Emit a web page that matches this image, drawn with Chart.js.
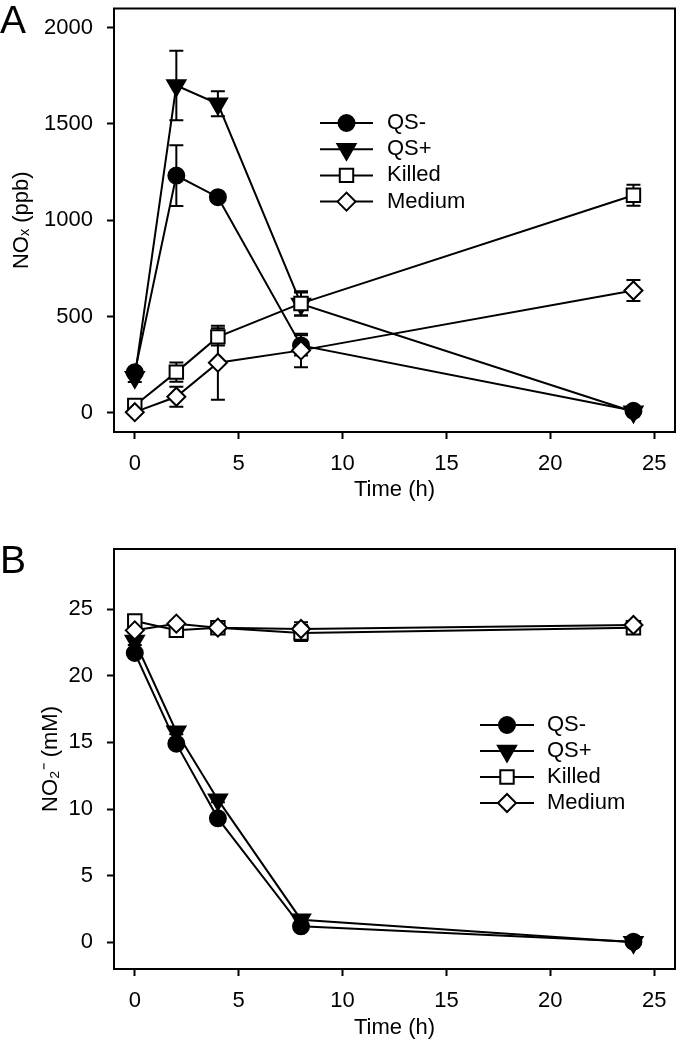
<!DOCTYPE html>
<html>
<head>
<meta charset="utf-8">
<script src="https://cdn.jsdelivr.net/npm/chart.js@4.4.1/dist/chart.umd.min.js"></script>
<style>
  html, body { margin: 0; padding: 0; background: #fff; }
  body { width: 680px; height: 1042px; position: relative; overflow: hidden; font-family: 'Liberation Sans', Arial, sans-serif; }
  .panel { position: absolute; left: 0; width: 680px; }
  .panel canvas { display: block; }
  .panel-label { position: absolute; left: 0; font-size: 39px; line-height: 1; color: #000; }
</style>
</head>
<body>
<div class="panel" style="top:0;height:505px"><canvas id="chartA" width="680" height="505"></canvas></div>
<div class="panel-label" style="top:0">A</div>
<div class="panel" style="top:520px;height:522px"><canvas id="chartB" width="680" height="522"></canvas></div>
<div class="panel-label" style="top:540px">B</div>
<script>
// sampling times (h)
const times = [0, 2, 4, 8, 24];
const seriesLabels = ['QS-', 'QS+', 'Killed', 'Medium'];
const timeTicks = [0, 5, 10, 15, 20, 25];

// panel A: NOx (ppb)
const noxTicks = [0, 500, 1000, 1500, 2000];
const noxQSminus = [210, 1232, 1120, 350, 10];
const noxQSplus = [185, 1700, 1605, 565, 5];
const noxKilled = [38, 211, 394, 568, 1130];
const noxMedium = [3, 83, 260, 324, 635];
const noxQSminusErr = [20, 158, 20, 52, 15];
const noxQSplusErr = [25, 180, 65, 60, 10];
const noxKilledErr = [20, 50, 45, 63, 55];
const noxMediumErr = [10, 52, 192, 87, 55];

// panel B: NO2- (mM)
const no2Ticks = [0, 5, 10, 15, 20, 25];
const no2QSminus = [21.7, 14.9, 9.3, 1.2, 0.05];
const no2QSplus = [22.6, 15.8, 10.7, 1.7, 0];
const no2Killed = [24.1, 23.4, 23.6, 23.2, 23.6];
const no2Medium = [23.4, 23.9, 23.6, 23.5, 23.8];
const no2QSminusErr = [0.3, 0.2, 0.2, 0.2, 0.1];
const no2QSplusErr = [0.3, 0.2, 0.2, 0.2, 0.1];
const no2KilledErr = [0.2, 0.2, 0.2, 0.6, 0.3];
const no2MediumErr = [0.2, 0.2, 0.2, 0.5, 0.2];

const FONT = "'Liberation Sans', Arial, sans-serif";
Chart.defaults.font.family = FONT;
Chart.defaults.color = '#000';

const markers = [
  { pointStyle: 'circle', radius: 8, rotation: 0, fill: '#000' },
  { pointStyle: 'triangle', radius: 10.5, rotation: 180, fill: '#000' },
  { pointStyle: 'rect', radius: 9.5, rotation: 0, fill: '#fff' },
  { pointStyle: 'rectRot', radius: 9, rotation: 0, fill: '#fff' }
];
// medium on top, then killed, QS-, QS+
const drawOrder = [2, 3, 1, 0];

const frame = {
  id: 'frame',
  afterDatasetsDraw(chart) {
    const { ctx, chartArea: a } = chart;
    ctx.save();
    ctx.strokeStyle = '#000';
    ctx.lineWidth = 2;
    ctx.strokeRect(a.left, a.top, a.right - a.left, a.bottom - a.top);
    ctx.restore();
  }
};

const errorBars = {
  id: 'errorBars',
  beforeDatasetsDraw(chart) {
    const { ctx, scales: { x, y } } = chart;
    ctx.save();
    ctx.strokeStyle = '#000';
    ctx.lineWidth = 2;
    chart.data.datasets.forEach(ds => {
      (ds.errors || []).forEach((e, i) => {
        if (!e) return;
        const pt = ds.data[i];
        const px = x.getPixelForValue(pt.x);
        const top = y.getPixelForValue(pt.y + e);
        const bot = y.getPixelForValue(pt.y - e);
        ctx.beginPath();
        ctx.moveTo(px, top); ctx.lineTo(px, bot);
        ctx.moveTo(px - 7, top); ctx.lineTo(px + 7, top);
        ctx.moveTo(px - 7, bot); ctx.lineTo(px + 7, bot);
        ctx.stroke();
      });
    });
    ctx.restore();
  }
};

const lineLegend = {
  id: 'lineLegend',
  afterDraw(chart, args, opts) {
    const { ctx } = chart;
    ctx.save();
    ctx.font = '22px ' + FONT;
    ctx.textBaseline = 'middle';
    chart.data.datasets.forEach((ds, i) => {
      const y = opts.top + i * opts.rowHeight;
      ctx.strokeStyle = '#000';
      ctx.lineWidth = 2;
      ctx.beginPath();
      ctx.moveTo(opts.left, y);
      ctx.lineTo(opts.left + opts.lineLength, y);
      ctx.stroke();
      const m = markers[i];
      ctx.fillStyle = m.fill;
      Chart.helpers.drawPoint(ctx, { pointStyle: m.pointStyle, radius: m.radius, rotation: m.rotation, borderWidth: 2 },
        opts.left + opts.lineLength / 2, y);
      ctx.fillStyle = '#000';
      ctx.fillText(ds.label, opts.left + opts.lineLength + opts.gap, y);
    });
    ctx.restore();
  }
};

function makeDatasets(values, errors) {
  return values.map((vals, i) => ({
    label: seriesLabels[i],
    data: times.map((t, j) => ({ x: t, y: vals[j] })),
    errors: errors[i],
    order: drawOrder[i],
    borderColor: '#000',
    borderWidth: 2,
    tension: 0,
    pointStyle: markers[i].pointStyle,
    pointRadius: markers[i].radius,
    pointRotation: markers[i].rotation,
    pointBackgroundColor: markers[i].fill,
    pointBorderColor: '#000',
    pointBorderWidth: 2
  }));
}

const tickGrid = { drawOnChartArea: false, drawTicks: true, tickLength: 7, tickWidth: 2, tickColor: '#000' };

function makeChart(id, cfg) {
  return new Chart(document.getElementById(id), {
    type: 'line',
    data: { datasets: makeDatasets(cfg.values, cfg.errors) },
    options: {
      responsive: false,
      animation: false,
      events: [],
      layout: { autoPadding: false, padding: { top: cfg.padTop, right: 5, left: 0, bottom: 0 } },
      plugins: {
        legend: { display: false },
        tooltip: { enabled: false },
        lineLegend: cfg.legend
      },
      scales: {
        x: {
          type: 'linear', min: -1, max: 26,
          afterBuildTicks(s) { s.ticks = timeTicks.map(v => ({ value: v })); },
          ticks: { padding: 12, font: { size: 22 }, color: '#000', maxRotation: 0, autoSkip: false, callback: v => String(v) },
          grid: tickGrid,
          border: { display: false },
          title: { display: true, text: 'Time (h)', font: { size: 22 }, color: '#000', padding: { top: 0, bottom: cfg.xTitlePad } },
          afterFit(s) { s.height = cfg.xHeight; s.paddingLeft = 0; s.paddingRight = 0; }
        },
        y: {
          type: 'linear', min: cfg.yMin, max: cfg.yMax,
          afterBuildTicks(s) { s.ticks = cfg.yTicks.map(v => ({ value: v })); },
          ticks: { padding: 14, font: { size: 22 }, color: '#000', autoSkip: false, callback: v => String(v) },
          grid: tickGrid,
          border: { display: false },
          title: { display: true, text: cfg.yTitle, font: { size: 22 }, color: '#000', padding: { top: cfg.yTitlePad, bottom: 0 } },
          afterFit(s) { s.width = 114; s.paddingTop = 0; s.paddingBottom = 0; }
        }
      }
    },
    plugins: [errorBars, frame, lineLegend]
  });
}

makeChart('chartA', {
  values: [noxQSminus, noxQSplus, noxKilled, noxMedium],
  errors: [noxQSminusErr, noxQSplusErr, noxKilledErr, noxMediumErr],
  yMin: -100, yMax: 2100, yTicks: noxTicks,
  yTitle: 'NOₓ (ppb)', yTitlePad: 9,
  padTop: 8.5, xHeight: 73, xTitlePad: 2,
  legend: { left: 320, top: 123, rowHeight: 26.2, lineLength: 53, gap: 14 }
});

makeChart('chartB', {
  values: [no2QSminus, no2QSplus, no2Killed, no2Medium],
  errors: [no2QSminusErr, no2QSplusErr, no2KilledErr, no2MediumErr],
  yMin: -2, yMax: 29.5, yTicks: no2Ticks,
  yTitle: 'NO₂⁻ (mM)', yTitlePad: 38,
  padTop: 29, xHeight: 73, xTitlePad: 1,
  legend: { left: 480, top: 205, rowHeight: 26, lineLength: 54, gap: 13 }
});
</script>
</body>
</html>
